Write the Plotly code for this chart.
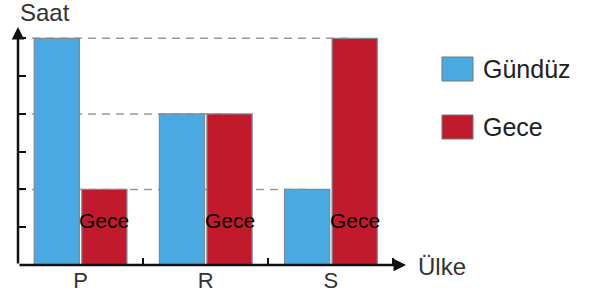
import plotly.graph_objects as go

categories = ["P", "R", "S"]
gunduz = [6, 4, 2]
gece = [2, 4, 6]
series_names = ["Gündüz", "Gece"]
series_colors = ["#4BA9E1", "#C01A2C"]
y_ticks = [1, 2, 3, 4, 5, 6]
bar_label = "Gece"

W, H = 592, 297
L, R, T, B = 18, 186, 27, 32
XR = [-0.5, 2.6]
YR = [0, 6.3]
BARGAP, GROUPGAP = 0.24, 0.05

font = "Liberation Sans, Arial, sans-serif"

fig = go.Figure()
for name, vals, col in zip(series_names, [gunduz, gece], series_colors):
    fig.add_trace(go.Bar(x=categories, y=vals, name=name,
                         marker=dict(color=col, line=dict(color="#7f8a94", width=1.2)),
                         showlegend=False, hoverinfo="skip"))

slot = (1 - BARGAP) / 2
offsets = [-slot / 2, slot / 2]
levels = sorted(set(gunduz + gece))
shapes = []
for v in levels:
    last = None
    for i in range(len(categories)):
        for s, vals in enumerate([gunduz, gece]):
            if vals[i] == v:
                last = i + offsets[s]
    shapes.append(dict(type="line", xref="x", yref="y", x0=XR[0], x1=last, y0=v, y1=v,
                       line=dict(color="#9a9a9a", width=1.5, dash="8px,6px"), layer="below"))

pw = W - L - R
ph = H - T - B
def px(x):
    return (x - L) / pw
def py(y):
    return (H - B - y) / ph

annotations = []
annotations.append(dict(x=XR[0], y=YR[1], xref="x", yref="y", ax=XR[0], ay=0, axref="x", ayref="y",
                        showarrow=True, arrowhead=2, arrowsize=1, arrowwidth=2.5, arrowcolor="#111", text=""))
annotations.append(dict(x=XR[1], y=0, xref="x", yref="y", ax=XR[0], ay=0, axref="x", ayref="y",
                        showarrow=True, arrowhead=2, arrowsize=1, arrowwidth=2.5, arrowcolor="#111", text=""))
annotations.append(dict(x=px(18), y=py(12), xref="paper", yref="paper", text="Saat", showarrow=False,
                        xanchor="left", yanchor="middle", font=dict(family=font, size=24, color="#333")))
annotations.append(dict(x=px(416), y=py(266), xref="paper", yref="paper", text="Ülke", showarrow=False,
                        xanchor="left", yanchor="middle", font=dict(family=font, size=24, color="#333")))
for i, c in enumerate(categories):
    annotations.append(dict(x=i + offsets[1], y=1.19, xref="x", yref="y", text=bar_label, showarrow=False,
                            xanchor="center", yanchor="middle", font=dict(family=font, size=21, color="#000")))
leg_y = [69, 127]
for name, col, yy in zip(series_names, series_colors, leg_y):
    shapes.append(dict(type="rect", xref="paper", yref="paper", x0=px(442), x1=px(473),
                       y0=py(yy - 12), y1=py(yy + 12), fillcolor=col, line=dict(color="#777", width=1)))
    annotations.append(dict(x=px(481), y=py(yy), xref="paper", yref="paper", text=name, showarrow=False,
                            xanchor="left", yanchor="middle", font=dict(family=font, size=25, color="#222")))

fig.update_layout(
    template="none",
    width=W, height=H, margin=dict(l=L, r=R, t=T, b=B, pad=0, autoexpand=False),
    paper_bgcolor="white", plot_bgcolor="white",
    barmode="group", bargap=BARGAP, bargroupgap=GROUPGAP,
    shapes=shapes, annotations=annotations, showlegend=False,
    xaxis=dict(type="category", range=XR, tickson="boundaries", ticks="inside", ticklen=7,
               tickwidth=2, tickcolor="#111", showgrid=False, showline=False, zeroline=False,
               automargin=False, tickfont=dict(family=font, size=22, color="#333"), fixedrange=True),
    yaxis=dict(range=YR, tickvals=y_ticks, ticks="inside", ticklen=8, tickwidth=2, tickcolor="#111",
               showticklabels=False, showgrid=False, zeroline=False, showline=False,
               automargin=False, fixedrange=True),
)

fig.write_html("out.html", config={"displayModeBar": False},
               post_script="document.body.style.margin='0';document.body.style.overflow='hidden';")
